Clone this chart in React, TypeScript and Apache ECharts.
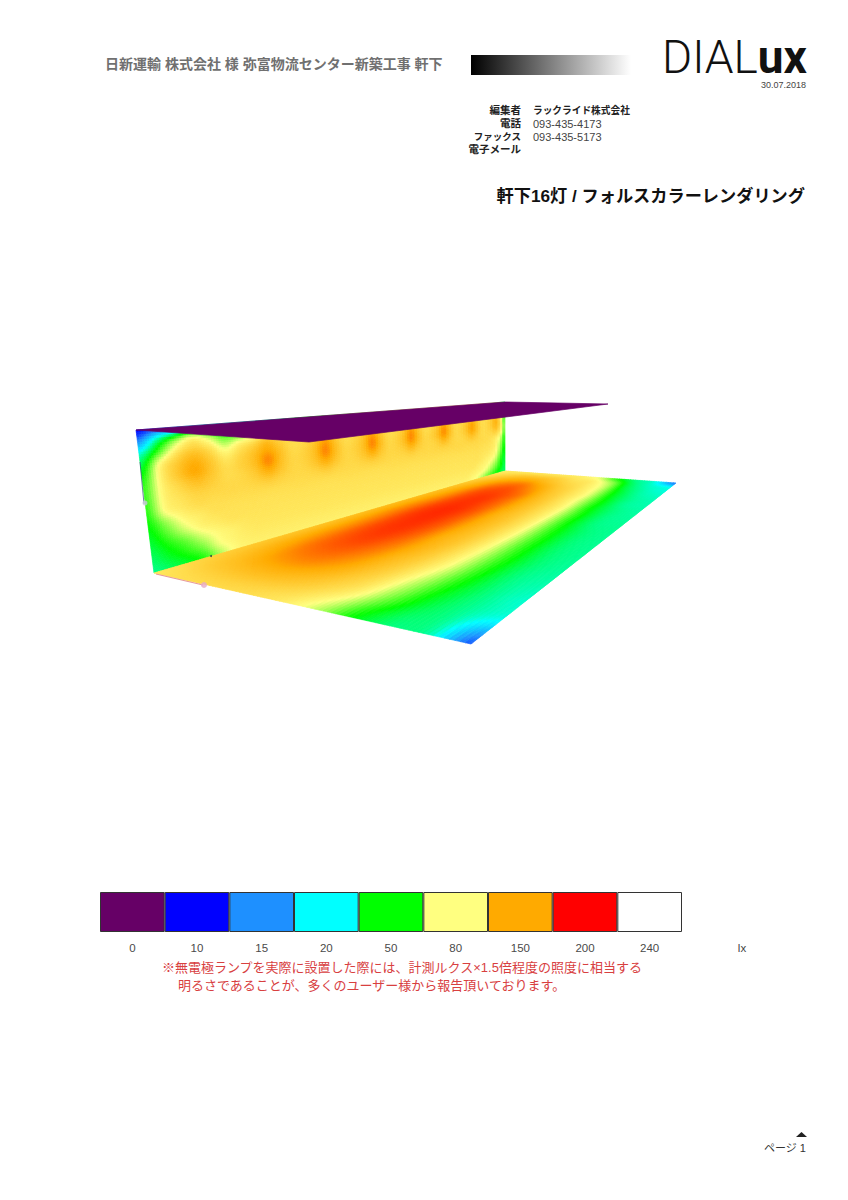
import React, { useEffect, useRef } from "react";
import * as echarts from "echarts";

// Illuminance scale
const legendLux = [0, 10, 15, 20, 50, 80, 150, 200, 240];
const legendColors = ["#660066", "#0000ff", "#1e90ff", "#00ffff", "#00ff00", "#ffff80", "#ffaa00", "#ff0000", "#ffffff"];
const legendSwatch = [1, 1, 1, 1, 1, 1, 1, 1, 1];

// Back wall, lux, top to bottom, near to far
const wallLux = [
  [10,13,16,19,20,23,25,27,30,32, 40,46,50,55,60,62,65,68,70,70, 72,72,74,75,75,76,77,78,78,78, 80,80,80,80,78,76,74,72,68,55, 40],
  [15,32,60,78,68,54,55,62,72,72, 75,80,84,88,88,88,88,90,92,92, 92,92,92,95,95,95,95,96,98,98, 98,98,98,98,98,96,96,95,92,75, 45],
  [26,58,92,118,100,74,88,105,128,112, 104,108,116,130,116,106,108,116,130,116, 106,108,116,130,116,106,108,116,128,116, 106,106,114,124,114,104,105,112,118,92, 50],
  [42,82,122,142,122,95,112,130,150,130, 110,114,130,155,130,110,114,130,156,130, 110,114,130,156,130,110,114,130,155,130, 110,114,128,150,128,108,112,124,140,100, 55],
  [52,90,128,150,128,108,118,134,160,134, 114,118,134,160,134,114,118,134,160,134, 114,118,134,158,134,114,118,134,156,132, 112,116,130,150,130,110,112,122,136,102, 60],
  [56,88,115,132,122,110,114,126,146,128, 114,116,128,146,128,114,116,128,144,126, 114,116,124,140,124,114,114,122,136,122, 112,112,120,130,120,110,110,112,116,90, 58],
  [56,86,105,116,114,112,112,116,122,116, 112,112,116,122,116,112,112,116,120,116, 112,112,114,118,114,112,112,114,116,114, 112,112,112,114,112,110,108,104,94,76, 52],
  [54,80,98,108,108,108,108,108,108,108, 108,108,108,108,108,108,108,108,108,108, 108,108,108,108,108,108,108,108,108,108, 108,108,108,108,108,106,104,100,88,70, 50],
  [50,68,84,96,104,104,104,104,104,104, 104,104,104,104,104,104,104,104,104,104, 104,104,104,104,104,104,104,104,104,104, 104,104,104,104,104,102,100,94,82,66, 46],
  [46,60,74,88,96,102,102,102,102,102, 102,102,102,102,102,102,102,102,102,102, 102,102,102,102,102,102,102,102,102,102, 102,102,102,102,102,98,92,86,76,60, 44],
  [42,52,62,74,84,92,98,100,100,100, 100,100,100,100,100,100,100,100,100,100, 100,100,100,100,100,100,100,100,100,100, 100,100,100,100,96,90,84,76,68,54, 42],
  [38,46,54,64,78,88,94,96,96,96, 96,96,96,96,96,96,96,96,96,96, 96,96,96,96,96,96,96,96,96,96, 96,96,96,92,88,82,76,68,60,50, 40],
  [34,40,46,54,70,82,90,92,92,92, 92,92,92,92,92,92,92,92,92,92, 92,92,92,92,92,92,92,92,92,92, 92,92,90,84,78,72,64,58,52,44, 38],
];

// Floor, lux, wall side to front, near to far
const floorLux = [
  [100,114,122,126,128,130,132,134,134,134,132,130,126,120,112,102,95],
  [106,126,140,150,154,156,158,160,160,158,156,154,150,142,130,114,98],
  [110,134,156,168,174,178,180,182,182,180,178,176,170,160,145,125,100],
  [110,136,160,172,180,184,186,187,187,185,184,180,175,165,148,125,100],
  [106,130,152,162,168,172,174,174,174,172,170,168,160,150,132,118,98],
  [94,116,132,140,146,146,148,148,146,146,144,140,133,125,114,102,92],
  [72,92,106,115,120,122,122,122,120,118,116,112,108,104,98,92,76],
  [50,64,72,78,80,82,84,84,83,82,80,78,78,76,74,68,52],
  [36,44,50,54,56,56,56,55,54,54,52,52,50,48,44,40,34],
  [30,33,35,36,38,38,38,38,36,36,36,34,34,32,30,27,23],
  [13,21,26,30,32,33,33,33,33,32,31,30,29,27,24,20,14],
];

// Ceiling receives no light
const ceilingLux = [
  [0, 0],
  [0, 0],
];

type P = [number, number];
const wallCorners: P[] = [[136, 430], [505, 402], [505, 471], [154, 573]];
const floorCorners: P[] = [[154, 573], [505, 471], [676, 483], [471, 644]];
const ceilingCorners: P[] = [[136, 430], [505, 402], [608, 404], [309, 442]];

function homography(c: P[]) {
  const [A, B, C, D] = c;
  const dx1 = B[0] - C[0], dx2 = D[0] - C[0], sx = A[0] - B[0] + C[0] - D[0];
  const dy1 = B[1] - C[1], dy2 = D[1] - C[1], sy = A[1] - B[1] + C[1] - D[1];
  const den = dx1 * dy2 - dx2 * dy1;
  const g = (sx * dy2 - dx2 * sy) / den;
  const h = (dx1 * sy - sx * dy1) / den;
  const map = (u: number, v: number): P => {
    const w = 1 + g * u + h * v;
    return [
      (A[0] + (B[0] * (1 + g) - A[0]) * u + (D[0] * (1 + h) - A[0]) * v) / w,
      (A[1] + (B[1] * (1 + g) - A[1]) * u + (D[1] * (1 + h) - A[1]) * v) / w,
    ];
  };
  return { map, g };
}

function luxToLevel(l: number) {
  for (let i = 1; i < legendLux.length; i++) {
    if (l <= legendLux[i]) return i - 1 + (l - legendLux[i - 1]) / (legendLux[i] - legendLux[i - 1]);
  }
  return legendLux.length - 1;
}

const paletteRgb = legendColors.map((c) => [1, 3, 5].map((i) => parseInt(c.slice(i, i + 2), 16)));

function levelToColor(level: number) {
  const l = Math.max(0, Math.min(paletteRgb.length - 1, level));
  const i = Math.min(paletteRgb.length - 2, Math.floor(l));
  const t = l - i;
  const a = paletteRgb[i], b = paletteRgb[i + 1];
  return `rgb(${[0, 1, 2].map((k) => Math.round(a[k] + (b[k] - a[k]) * t)).join(",")})`;
}

const cr = (p0: number, p1: number, p2: number, p3: number, t: number) =>
  0.5 * (2 * p1 + (p2 - p0) * t + (2 * p0 - 5 * p1 + 4 * p2 - p3) * t * t + (3 * p1 - p0 - 3 * p2 + p3) * t * t * t);

function sampleLevel(grid: number[][], u: number, v: number) {
  const rows = grid.length, cols = grid[0].length;
  const fx = u * (cols - 1), fy = v * (rows - 1);
  const ix = Math.min(cols - 2, Math.floor(fx)), iy = Math.min(rows - 2, Math.floor(fy));
  const tx = fx - ix, ty = fy - iy;
  const at = (r: number, c: number) => grid[Math.max(0, Math.min(rows - 1, r))][Math.max(0, Math.min(cols - 1, c))];
  const line = [-1, 0, 1, 2].map((d) => cr(at(iy + d, ix - 1), at(iy + d, ix), at(iy + d, ix + 1), at(iy + d, ix + 2), tx));
  return cr(line[0], line[1], line[2], line[3], ty);
}

function surfaceSeries(name: string, lux: number[][], corners: P[], nu: number, nv: number, z: number) {
  const levels = lux.map((r) => r.map(luxToLevel));
  const { map, g } = homography(corners);
  // cells of about equal size on screen despite the perspective
  const warp = (t: number) => t / (1 + g - g * t);
  const data: number[][] = [];
  for (let j = 0; j < nv; j++) for (let i = 0; i < nu; i++) data.push([i, j]);
  return {
    type: "custom",
    name,
    coordinateSystem: "cartesian2d",
    xAxisIndex: 0,
    yAxisIndex: 0,
    z,
    silent: true,
    clip: false,
    progressive: 0,
    animation: false,
    data,
    encode: { x: 0, y: 1 },
    renderItem: (_: unknown, api: any) => {
      const i = api.value(0), j = api.value(1);
      const pts = [[i, j], [i + 1, j], [i + 1, j + 1], [i, j + 1]].map(([a, b]) =>
        api.coord(map(warp(a / nu), b / nv)),
      );
      const fill = levelToColor(sampleLevel(levels, warp((i + 0.5) / nu), (j + 0.5) / nv));
      return {
        type: "polygon",
        shape: { points: pts },
        style: { fill, stroke: fill, lineWidth: 0.7 },
      };
    },
  };
}

const JP = '"Liberation Sans", "Noto Sans CJK JP", sans-serif';

function label(text: string, x: number, y: number, fontSize: number, fill: string, align = "left", fontWeight: any = "normal", family = JP, lineHeight?: number) {
  return {
    type: "text",
    z: 50,
    silent: true,
    x,
    y,
    style: { text, fontSize, fill, fontFamily: family, fontWeight, align, verticalAlign: "middle", lineHeight },
  };
}

export default function App() {
  const ref = useRef<HTMLDivElement>(null);
  useEffect(() => {
    const chart = echarts.init(ref.current!, undefined, { renderer: "svg" });
    chart.setOption({
      animation: false,
      grid: [
        { left: 0, top: 0, width: 848, height: 1200, show: false },
        { left: 100, top: 892, width: 582, height: 40, show: false },
      ],
      xAxis: [
        { type: "value", gridIndex: 0, min: 0, max: 848, show: false },
        {
          type: "category",
          gridIndex: 1,
          data: legendLux.map(String),
          axisLine: { show: false },
          axisTick: { show: false },
          axisLabel: { color: "#4a4a4a", fontSize: 11.5, fontFamily: JP, margin: 10, interval: 0 },
        },
      ],
      yAxis: [
        { type: "value", gridIndex: 0, min: 0, max: 1200, inverse: true, show: false },
        { type: "value", gridIndex: 1, min: 0, max: 1, show: false },
      ],
      series: [
        surfaceSeries("wall", wallLux, wallCorners, 150, 60, 2),
        surfaceSeries("ceiling", ceilingLux, ceilingCorners, 1, 1, 3),
        surfaceSeries("floor", floorLux, floorCorners, 170, 80, 4),
        {
          type: "bar",
          xAxisIndex: 1,
          yAxisIndex: 1,
          barWidth: "100%",
          silent: true,
          data: legendSwatch.map((value, i) => ({
            value,
            itemStyle: { color: legendColors[i], borderColor: "#333", borderWidth: 1 },
          })),
        },
      ],
      graphic: [
        label("日新運輸 株式会社 様 弥富物流センター新築工事 軒下", 105, 64, 14, "#707070", "left", "bold"),
        {
          type: "rect",
          silent: true,
          shape: { x: 471, y: 55, width: 160, height: 20 },
          style: {
            fill: new echarts.graphic.LinearGradient(0, 0, 1, 0, [
              { offset: 0, color: "#000000" },
              { offset: 1, color: "#ffffff" },
            ]),
          },
        },
        label("DIAL", 662, 57, 46, "#111", "left", 300, "Roboto, Lato, sans-serif", 36),
        label("ux", 807, 57, 46, "#111", "right", "bold", "Roboto, Lato, sans-serif", 36),
        label("30.07.2018", 806, 85, 9, "#444", "right"),
        label("編集者", 521, 110, 10.5, "#222", "right", "bold"),
        label("電話", 521, 123, 10.5, "#222", "right", "bold"),
        label("ファックス", 521, 136, 9.5, "#222", "right", "bold"),
        label("電子メール", 521, 149, 10.5, "#222", "right", "bold"),
        label("ラックライド株式会社", 533, 110, 9.7, "#222", "left", "bold"),
        label("093-435-4173", 533, 124, 11, "#444"),
        label("093-435-5173", 533, 137, 11, "#444"),
        label("軒下16灯 / フォルスカラーレンダリング", 805, 196, 17.2, "#111", "right", "bold"),
        label("lx", 742, 948, 11.5, "#444", "center"),
        label("※無電極ランプを実際に設置した際には、計測ルクス×1.5倍程度の照度に相当する", 162, 967, 13, "#d8403f"),
        label("明るさであることが、多くのユーザー様から報告頂いております。", 178, 985, 13, "#d8403f"),
        label("ページ 1", 806, 1148, 11, "#333", "right"),
        {
          type: "polygon",
          silent: true,
          shape: { points: [[796, 1137], [807, 1137], [801.5, 1132]] },
          style: { fill: "#222" },
        },
        {
          type: "line",
          silent: true,
          z: 40,
          shape: { x1: 140, y1: 462, x2: 144, y2: 504 },
          style: { stroke: "#33507a", lineWidth: 1, opacity: 0.7 },
        },
        {
          type: "line",
          silent: true,
          z: 40,
          shape: { x1: 156, y1: 574, x2: 203, y2: 585 },
          style: { stroke: "#e79a9a", lineWidth: 1.2 },
        },
        {
          type: "circle",
          silent: true,
          z: 40,
          shape: { cx: 204, cy: 585, r: 3 },
          style: { fill: "#e6aac8", opacity: 0.8 },
        },
        {
          type: "circle",
          silent: true,
          z: 40,
          shape: { cx: 145, cy: 503, r: 2.5 },
          style: { fill: "#c8c8d8", opacity: 0.8 },
        },
        {
          type: "circle",
          silent: true,
          z: 40,
          shape: { cx: 211, cy: 556, r: 1 },
          style: { fill: "#335544" },
        },
      ],
    });
    return () => chart.dispose();
  }, []);
  return <div ref={ref} style={{ position: "absolute", left: 0, top: 0, width: 848, height: 1200 }} />;
}
